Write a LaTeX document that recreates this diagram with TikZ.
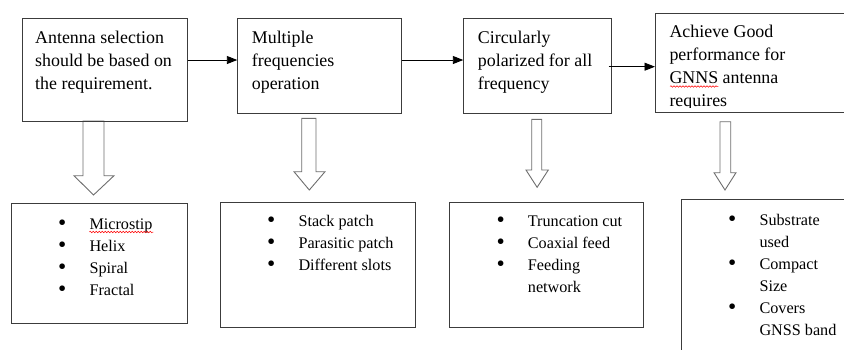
\documentclass[tikz,border=0pt]{standalone}
\usepackage{fontspec}
\setmainfont{Liberation Serif}
\usetikzlibrary{arrows.meta,calc,decorations.pathmorphing}
\definecolor{boxgray}{RGB}{60,60,60}
\definecolor{arrgray}{RGB}{110,110,110}
\newcommand{\itm}[1]{\makebox[31.4pt][l]{\raisebox{-0.9pt}{\scalebox{1.45}{•}}}#1}
\newcommand{\cnt}[1]{\hspace*{31.4pt}#1}
\newcommand{\tstrut}{\rule{0pt}{16.3pt}}
\newcommand{\lstrut}{\rule{0pt}{15.4pt}}

\begin{document}
\begin{tikzpicture}[x=1pt,y=-1pt,
		box/.style={draw=boxgray,line width=0.9pt,anchor=north west,inner sep=0pt},
		toptxt/.style={anchor=north west,inner sep=0pt,align=left,
			font=\fontsize{17.9}{23}\selectfont},
		listtxt/.style={anchor=north west,inner sep=0pt,align=left,
			font=\fontsize{16.2}{22}\selectfont},
		link/.style={-{Triangle[length=10.5pt,width=8pt]},line width=0.9pt},
		hollow/.style={draw=arrgray,fill=white,line width=0.9pt,line join=miter},
		spell/.style={draw=red,line width=0.5pt,decorate,
			decoration={snake,amplitude=0.8pt,segment length=3pt}}]
		
		\clip (0,0) rectangle (844,349);
		
		%frecce vuote verso il basso
		\draw[hollow] (83,121) -- (83,175.7) -- (74,175.7) -- (93.5,195)
			-- (114,175.7) -- (104,175.7) -- (104,121) -- cycle;
		\draw[hollow] (301.7,118.3) -- (301.7,171.7) -- (294,171.7) -- (309.3,190)
			-- (325,171.7) -- (316,171.7) -- (316,118.3) -- cycle;
		\draw[hollow] (531.7,119.3) -- (531.7,170) -- (526,170) -- (537.1,187.3)
			-- (548.3,170) -- (541.7,170) -- (541.7,119.3) -- cycle;
		\draw[hollow] (720,121.7) -- (720,172.7) -- (714,172.7) -- (725,190)
			-- (736,172.7) -- (730.7,172.7) -- (730.7,121.7) -- cycle;
		
		%riquadri in alto
		\node[box,minimum width=164.7pt,minimum height=102.7pt] (b1) at (22,18.3) {};
		\node[box,minimum width=163.7pt,minimum height=94.4pt] (b2) at (237.3,18.3) {};
		\node[box,minimum width=147.4pt,minimum height=94.4pt] (b3) at (463.3,18.3) {};
		\node[box,minimum width=200pt,minimum height=99pt] (b4) at (655,12.7) {};
		
		\node[toptxt] (t1) at (35,26.7) {\tstrut Antenna selection\\should be based on\\the requirement.};
		\node[toptxt] (t2) at (251.7,26.7) {\tstrut Multiple\\frequencies\\operation};
		\node[toptxt] (t3) at (477.7,26.7) {\tstrut Circularly\\polarized for all\\frequency};
		\begin{scope}
			\clip (b4.north west) rectangle ($(b4.south east)+(0,-5.4)$);
			\node[toptxt] (t4) at (669.3,21) {\tstrut Achieve Good\\performance for\\GNNS antenna\\requires};
		\end{scope}
		
		%frecce tra i riquadri
		\draw[link] (b1.east |- 0,60) -- (b2.west |- 0,60);
		\draw[link] (b2.east |- 0,60) -- (b3.west |- 0,60);
		\draw[link] ($(b3.east |- 0,66.7)+(-3,0)$) -- (b4.west |- 0,66.7);
		
		%riquadri in basso
		\node[box,minimum width=175.7pt,minimum height=120pt] (b5) at (11,203.3) {};
		\node[box,minimum width=195pt,minimum height=125pt] (b6) at (220,201.7) {};
		\node[box,minimum width=194pt,minimum height=125pt] (b7) at (449.3,201.7) {};
		\node[box,minimum width=200pt,minimum height=200pt] (b8) at (681,199.3) {};
		
		\node[listtxt] (l1) at (57.9,213.9) {\lstrut\itm{Microstip}\\\itm{Helix}\\\itm{Spiral}\\\itm{Fractal}};
		\node[listtxt] (l2) at (266.9,210.6) {\lstrut\itm{Stack patch}\\\itm{Parasitic patch}\\\itm{Different slots}};
		\node[listtxt] (l3) at (496.3,210.6) {\lstrut\itm{Truncation cut}\\\itm{Coaxial feed}\\\itm{Feeding}\\\cnt{network}};
		\node[listtxt] (l4) at (727.9,209.6) {\lstrut\itm{Substrate}\\\cnt{used}\\\itm{Compact}\\\cnt{Size}\\\itm{Covers}\\\cnt{GNSS band}};
		
		%sottolineature rosse
		\draw[spell] (89.3,232) -- (153.3,232);
		\draw[spell] (670,86.5) -- (718.3,86.5);
	\end{tikzpicture}
\end{document}
